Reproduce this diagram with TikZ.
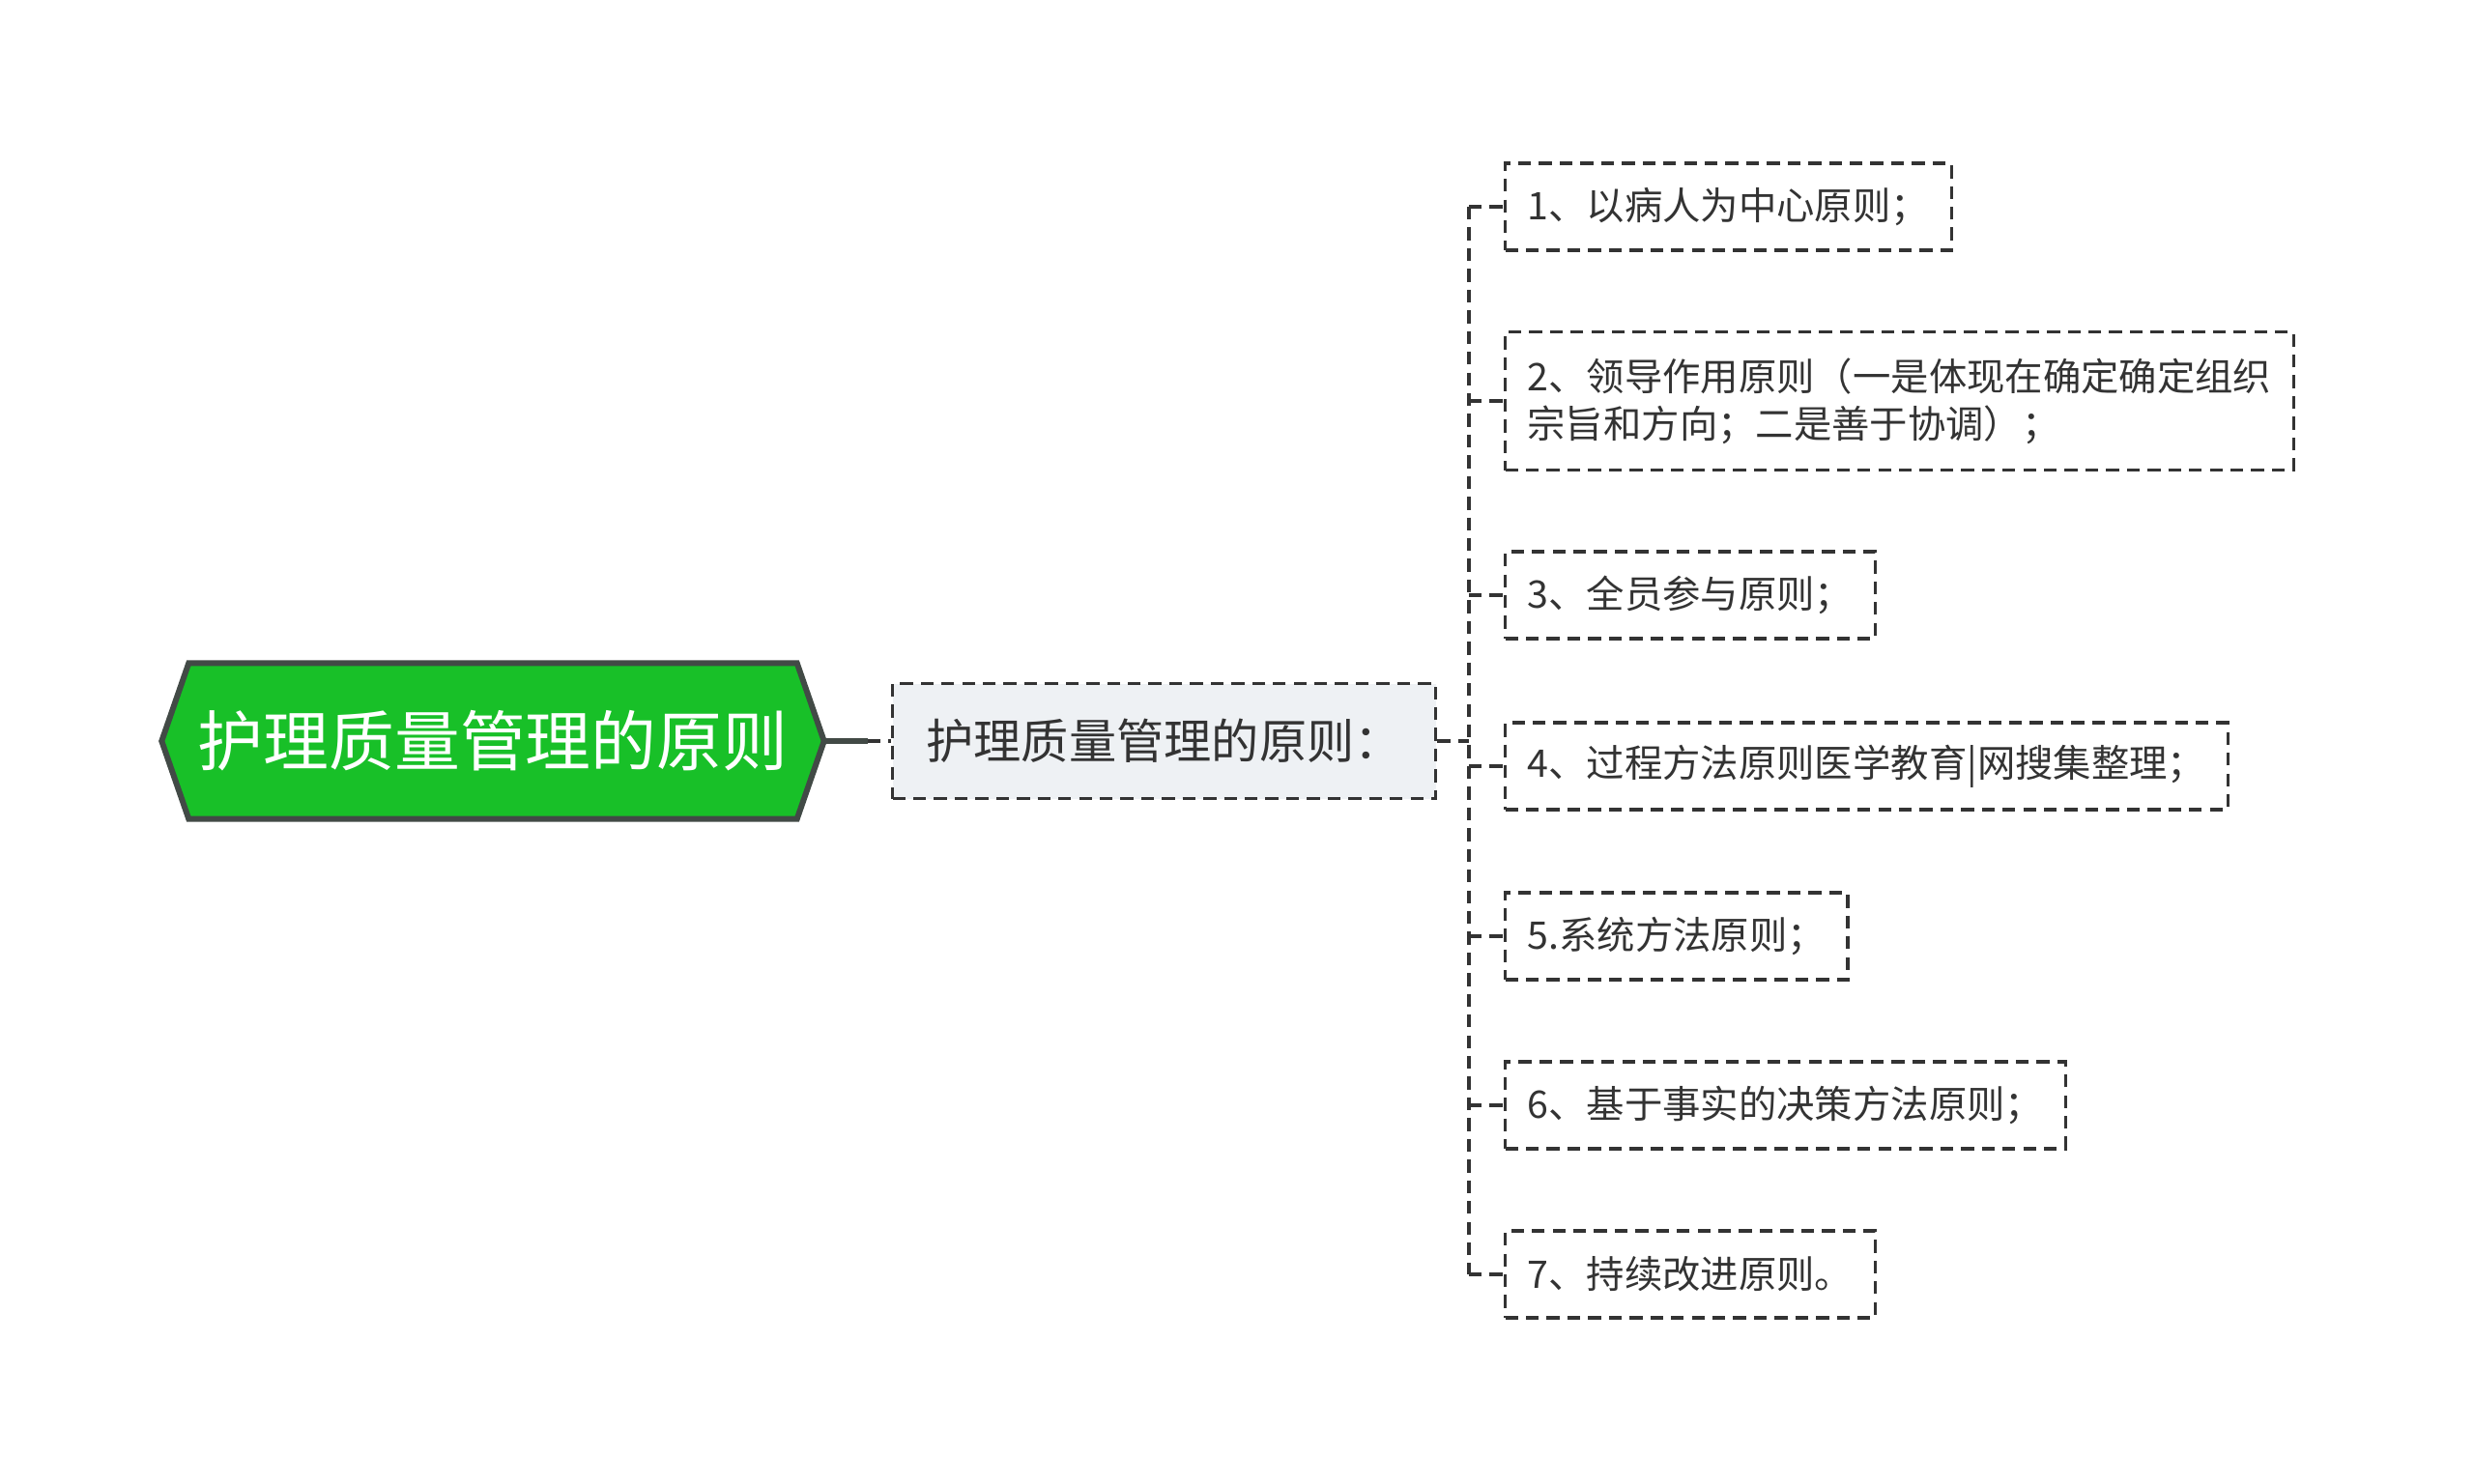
\documentclass[tikz,border=0pt]{standalone}
\usepackage{fontspec}
\setmainfont{Noto Sans CJK SC}
\usetikzlibrary{calc,backgrounds}

\definecolor{rootgreen}{RGB}{24,192,40}
\definecolor{rootedge}{RGB}{66,74,70}
\definecolor{linegray}{RGB}{51,51,51}
\definecolor{midfill}{RGB}{238,241,244}

\tikzset{
  leaf/.style={draw=linegray, line width=0.9pt, dash pattern=on 3.8pt off 2.3pt,
    anchor=west, inner xsep=0.23cm, minimum height=0.9cm, align=left,
    text=linegray, font=\fontsize{11.2}{14}\selectfont},
  link/.style={draw=linegray, line width=0.9pt, dash pattern=on 3.8pt off 2.3pt},
}

\begin{document}
\begin{tikzpicture}
\useasboundingbox (0,0) rectangle (25.6,-15.35);

% Root node (hexagon)
\node[minimum width=6.28cm, minimum height=1.6cm, inner sep=0pt, text=white,
  font=\fontsize{19.3}{22}\selectfont] (root) at (5.10,-7.67) {护理质量管理的原则};
\coordinate (rootL) at ($(root.west)+(-0.28,0)$);
\coordinate (rootR) at ($(root.east)+(0.28,0)$);
\begin{scope}[on background layer]
\filldraw[fill=rootgreen, draw=rootedge, line width=1.7pt] (rootL) -- (root.north west)
  -- (root.north east) -- (rootR) -- (root.south east) -- (root.south west) -- cycle;
\end{scope}

% Middle node
\node[leaf, fill=midfill, minimum width=5.62cm, minimum height=1.19cm, inner xsep=0.26cm,
  font=\fontsize{14}{16}\selectfont] (mid) at (9.22,-7.67) {护理质量管理的原则：};

% Root to middle
\coordinate (rj) at (8.98,-7.67);
\draw[rootedge, line width=1.7pt] (rootR) -- (rj);
\draw[link] (rj) -- (mid.west);

% Child nodes
\node[leaf] (c1) at (15.56,-2.14) {1、以病人为中心原则；};
\node[leaf, minimum height=1.43cm] (c2) at (15.56,-4.15) {2、领导作用原则（一是体现在确定确定组织\\宗旨和方向；二是善于协调）；};
\node[leaf] (c3) at (15.56,-6.16) {3、全员参与原则；};
\node[leaf] (c4) at (15.56,-7.93) {4、过程方法原则医学教育|网搜集整理；};
\node[leaf] (c5) at (15.56,-9.69) {5.系统方法原则；};
\node[leaf] (c6) at (15.56,-11.44) {6、基于事实的决策方法原则；};
\node[leaf] (c7) at (15.56,-13.19) {7、持续改进原则。};

% Trunk and branches
\coordinate (fork) at (15.20,-7.67);
\draw[link] (mid.east) -- (fork);
\draw[link] (fork |- c1.west) -- (fork |- c7.west);
\foreach \c in {c1,c2,c3,c4,c5,c6,c7} {
    \draw[link] (fork |- \c.west) -- (\c.west);
}
\end{tikzpicture}
\end{document}
